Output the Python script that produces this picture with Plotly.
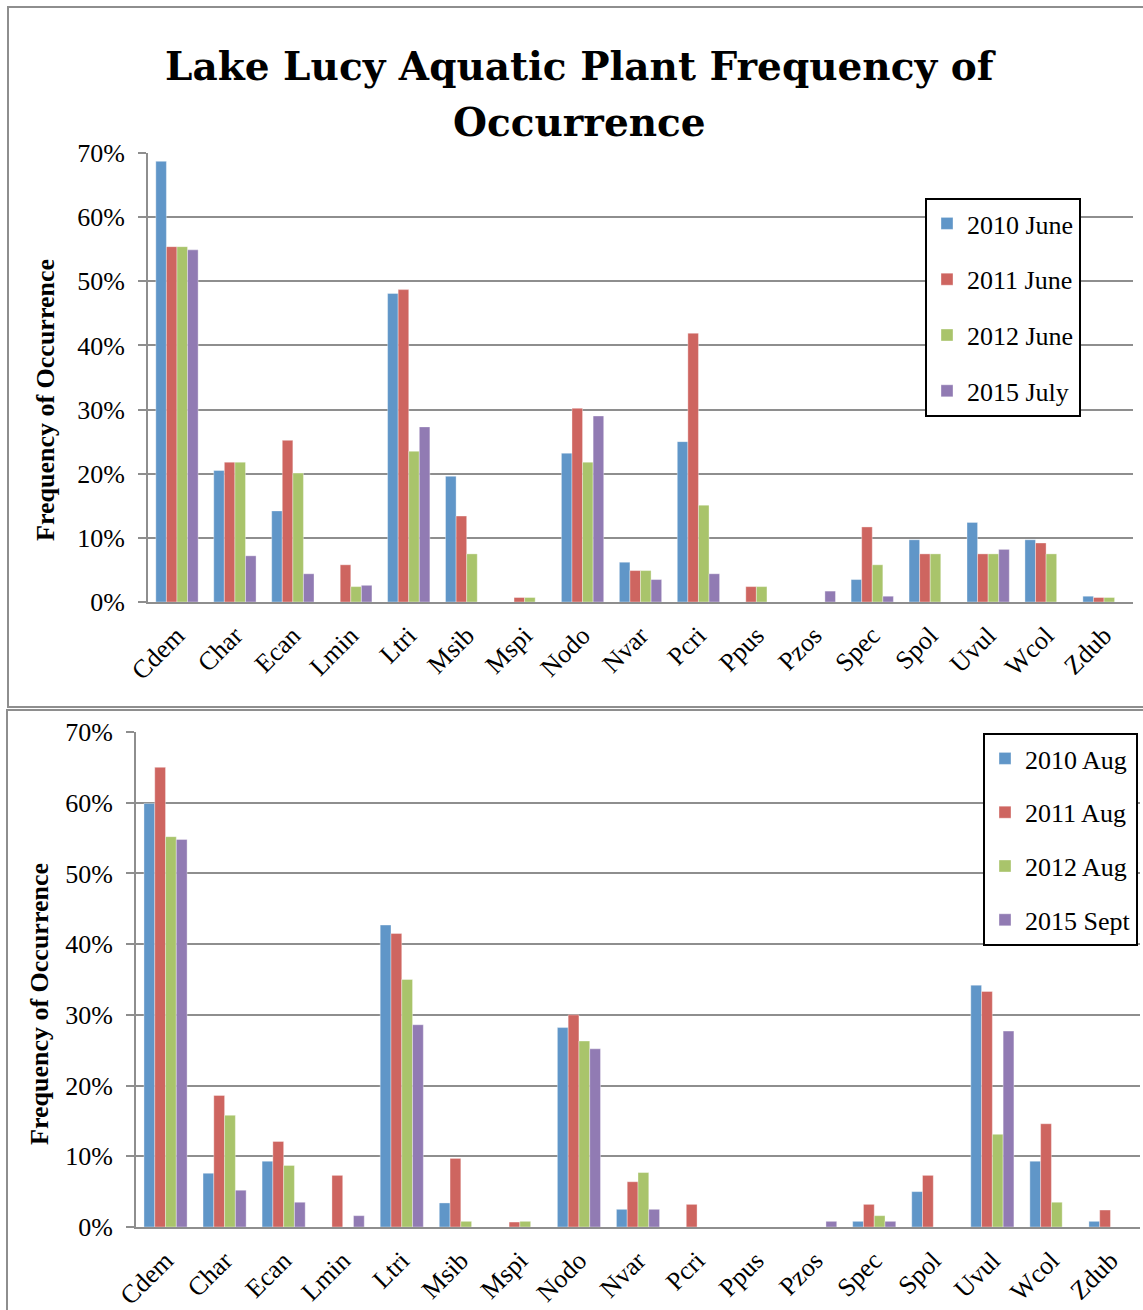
import plotly.graph_objects as go

W, H = 1143, 1310

species = ["Cdem", "Char", "Ecan", "Lmin", "Ltri", "Msib", "Mspi", "Nodo", "Nvar",
           "Pcri", "Ppus", "Pzos", "Spec", "Spol", "Uvul", "Wcol", "Zdub"]

# Top chart (early summer surveys), fraction of sample points
june_2010 = [0.687, 0.205, 0.142, 0.0, 0.481, 0.196, 0.0, 0.232, 0.062,
             0.250, 0.0, 0.0, 0.035, 0.097, 0.124, 0.097, 0.009]
june_2011 = [0.554, 0.218, 0.252, 0.058, 0.487, 0.134, 0.007, 0.302, 0.049,
             0.419, 0.024, 0.0, 0.117, 0.075, 0.075, 0.092, 0.007]
june_2012 = [0.554, 0.218, 0.201, 0.024, 0.235, 0.075, 0.007, 0.218, 0.049,
             0.151, 0.024, 0.0, 0.058, 0.075, 0.075, 0.075, 0.007]
july_2015 = [0.549, 0.072, 0.044, 0.026, 0.273, 0.0, 0.0, 0.290, 0.035,
             0.044, 0.0, 0.017, 0.009, 0.0, 0.082, 0.0, 0.0]

# Bottom chart (late summer surveys)
aug_2010 = [0.599, 0.076, 0.093, 0.0, 0.427, 0.034, 0.0, 0.282, 0.025,
            0.0, 0.0, 0.0, 0.008, 0.050, 0.342, 0.093, 0.008]
aug_2011 = [0.650, 0.186, 0.121, 0.073, 0.415, 0.097, 0.007, 0.300, 0.064,
            0.032, 0.0, 0.0, 0.032, 0.073, 0.333, 0.146, 0.024]
aug_2012 = [0.552, 0.158, 0.087, 0.0, 0.350, 0.008, 0.008, 0.263, 0.077,
            0.0, 0.0, 0.0, 0.016, 0.0, 0.131, 0.035, 0.0]
sept_2015 = [0.548, 0.052, 0.035, 0.016, 0.286, 0.0, 0.0, 0.252, 0.025,
             0.0, 0.0, 0.008, 0.008, 0.0, 0.277, 0.0, 0.0]

top_names = ["2010 June", "2011 June", "2012 June", "2015 July"]
bottom_names = ["2010 Aug", "2011 Aug", "2012 Aug", "2015 Sept"]
colors = ["#6096C8", "#CE6560", "#A9C46B", "#917BB3"]

tick_vals = [0, 0.1, 0.2, 0.3, 0.4, 0.5, 0.6, 0.7]
tick_text = ["0%", "10%", "20%", "30%", "40%", "50%", "60%", "70%"]

SERIF = "Liberation Serif"
GRID = "#8E8E8E"

fig = go.Figure()

for name, vals, col in zip(top_names, [june_2010, june_2011, june_2012, july_2015], colors):
    fig.add_trace(go.Bar(x=species, y=vals, name=name,
                         marker=dict(color=col, line=dict(color="rgba(255,255,255,0.6)", width=0.6)),
                         xaxis="x", yaxis="y", legend="legend", legendgroup=name))
for name, vals, col in zip(bottom_names, [aug_2010, aug_2011, aug_2012, sept_2015], colors):
    fig.add_trace(go.Bar(x=species, y=vals, name=name,
                         marker=dict(color=col, line=dict(color="rgba(255,255,255,0.6)", width=0.6)),
                         xaxis="x2", yaxis="y2", legend="legend2", legendgroup=name))

def px_x(p):
    return p / W

def px_y(p):
    return 1 - p / H

xcommon = dict(type="category", showgrid=False, showline=True, linecolor=GRID, linewidth=2,
               ticks="", tickangle=-45, automargin=False, ticklabelstandoff=6,
               tickfont=dict(family=SERIF, size=26, color="black"))
ycommon = dict(range=[0, 0.7], tickvals=tick_vals, ticktext=tick_text, showgrid=True,
               gridcolor=GRID, gridwidth=2, showline=True, linecolor=GRID, linewidth=2,
               ticks="outside", ticklen=8, tickcolor=GRID, tickwidth=2, zeroline=False,
               ticklabelstandoff=8, automargin=False,
               tickfont=dict(family=SERIF, size=26, color="black"))

legcommon = dict(font=dict(family=SERIF, size=26, color="black"), bgcolor="white",
                 bordercolor="black", borderwidth=2, xanchor="right", yanchor="top",
                 itemclick=False, itemdoubleclick=False, traceorder="grouped")

fig.update_layout(
    width=W, height=H,
    autosize=False,
    margin=dict(l=0, r=0, t=0, b=0, pad=0, autoexpand=False),
    paper_bgcolor="white", plot_bgcolor="white",
    barmode="group", bargap=0.27, bargroupgap=0,
    showlegend=True,
    xaxis=dict(domain=[px_x(148), px_x(1133)], anchor="y", **xcommon),
    yaxis=dict(domain=[px_y(602), px_y(153)], anchor="x", **ycommon),
    xaxis2=dict(domain=[px_x(136), px_x(1140)], anchor="y2", **xcommon),
    yaxis2=dict(domain=[px_y(1227), px_y(732)], anchor="x2", **ycommon),
    legend=dict(x=px_x(1081), y=px_y(198), tracegroupgap=19, **legcommon),
    legend2=dict(x=px_x(1138), y=px_y(733), tracegroupgap=17, **legcommon),
)

# Panel borders
fig.add_shape(type="rect", xref="paper", yref="paper", x0=px_x(8), x1=px_x(1150), y0=px_y(707), y1=px_y(7),
              line=dict(color=GRID, width=2), fillcolor="rgba(0,0,0,0)", layer="below")
fig.add_shape(type="rect", xref="paper", yref="paper", x0=px_x(7), x1=px_x(1150), y0=px_y(1320), y1=px_y(710),
              line=dict(color=GRID, width=2), fillcolor="rgba(0,0,0,0)", layer="below")

# Title (two lines)
fig.add_annotation(text="<b>Lake Lucy Aquatic Plant Frequency of</b>", xref="paper", yref="paper",
                   x=px_x(580), y=px_y(66), xanchor="center", yanchor="middle", showarrow=False,
                   font=dict(family="DejaVu Serif", size=39, color="black"))
fig.add_annotation(text="<b>Occurrence</b>", xref="paper", yref="paper",
                   x=px_x(579), y=px_y(122), xanchor="center", yanchor="middle", showarrow=False,
                   font=dict(family="DejaVu Serif", size=39, color="black"))

# Y axis titles
fig.add_annotation(text="<b>Frequency of Occurrence</b>", xref="paper", yref="paper",
                   x=px_x(45), y=px_y(400), textangle=-90, showarrow=False,
                   xanchor="center", yanchor="middle",
                   font=dict(family=SERIF, size=26, color="black"))
fig.add_annotation(text="<b>Frequency of Occurrence</b>", xref="paper", yref="paper",
                   x=px_x(39), y=px_y(1004), textangle=-90, showarrow=False,
                   xanchor="center", yanchor="middle",
                   font=dict(family=SERIF, size=26, color="black"))

fig.write_html("out.html",
               config={"displayModeBar": False, "staticPlot": True},
               post_script="document.body.style.margin='0';document.body.style.overflow='hidden';")
